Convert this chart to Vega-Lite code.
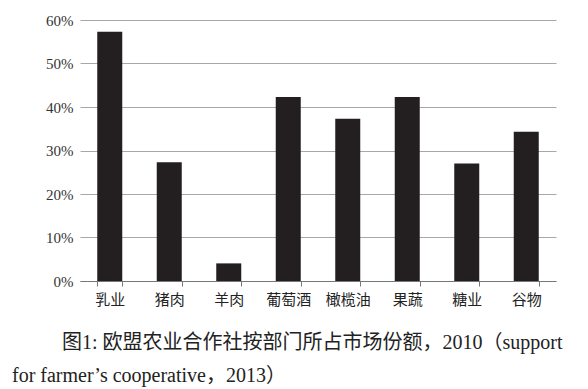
{
  "$schema": "https://vega.github.io/schema/vega-lite/v6.json",
  "autosize": "none",
  "width": 476,
  "height": 261,
  "padding": {"left": 80, "top": 20, "right": 32, "bottom": 108},
  "background": "white",
  "config": {"view": {"stroke": null}},
  "data": {"values": [
    {"sector": "乳业", "share": 0.573},
    {"sector": "猪肉", "share": 0.273},
    {"sector": "羊肉", "share": 0.0405},
    {"sector": "葡萄酒", "share": 0.423},
    {"sector": "橄榄油", "share": 0.373},
    {"sector": "果蔬", "share": 0.423},
    {"sector": "糖业", "share": 0.27},
    {"sector": "谷物", "share": 0.343}
  ]},
  "title": {
    "text": ["\u200b\u2003\u2003\u2002图1: 欧盟农业合作社按部门所占市场份额，2010（support", "for farmer’s cooperative，2013）"],
    "orient": "bottom",
    "anchor": "start",
    "frame": "group",
    "dx": -68,
    "offset": 26,
    "font": "'Liberation Serif', 'Noto Sans CJK SC', serif",
    "fontSize": 20,
    "fontWeight": "normal",
    "color": "#222",
    "lineHeight": 33
  },
  "mark": {"type": "bar", "color": "#231f20", "width": 25},
  "encoding": {
    "x": {
      "field": "sector",
      "type": "nominal",
      "sort": null,
      "title": null,
      "scale": {"paddingInner": 0.58, "paddingOuter": 0.29},
      "axis": {
        "labelAngle": 0,
        "labelFont": "'Noto Sans CJK SC', sans-serif",
        "labelFontSize": 15,
        "labelColor": "#222",
        "labelPadding": 6,
        "tickBand": "extent",
        "tickSize": 5,
        "tickColor": "#777",
        "domainColor": "#777",
        "grid": false
      }
    },
    "y": {
      "field": "share",
      "type": "quantitative",
      "title": null,
      "scale": {"domain": [0, 0.6]},
      "axis": {
        "values": [0, 0.1, 0.2, 0.3, 0.4, 0.5, 0.6],
        "format": ".0%",
        "domain": false,
        "ticks": false,
        "labelFont": "'Liberation Serif', serif",
        "labelFontSize": 15,
        "labelColor": "#333",
        "labelPadding": 7,
        "gridColor": "#a8a8a8",
        "gridWidth": 1
      }
    }
  }
}
